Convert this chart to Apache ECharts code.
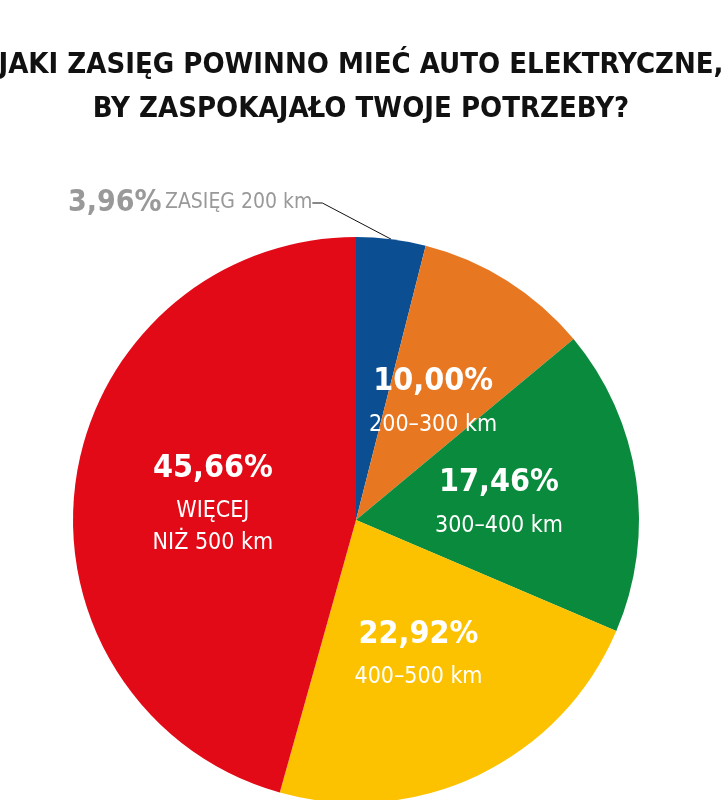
<!DOCTYPE html>
<html><head><meta charset="utf-8">
<script src="https://cdn.jsdelivr.net/npm/echarts@6/dist/echarts.min.js"></script>
<style>html,body{margin:0;padding:0;background:#fff}#c{width:722px;height:800px}</style>
</head><body><div id="c"></div>
<script>
const categories = ['ZASIĘG 200 km', '200–300 km', '300–400 km', '400–500 km', 'WIĘCEJ\nNIŻ 500 km'];
const values = [3.96, 10.00, 17.46, 22.92, 45.66];
const colors = ['#0b4f92', '#e87722', '#0a8a3c', '#fcc200', '#e20a17'];
const F = '"Liberation Sans Narrow", "DejaVu Sans Condensed", sans-serif';
const fmt = v => v.toFixed(2).replace('.', ',') + '%';
const chart = echarts.init(document.getElementById('c'));
chart.setOption({
  animation: false,
  title: {
    text: 'JAKI ZASIĘG POWINNO MIEĆ AUTO ELEKTRYCZNE,\nBY ZASPOKAJAŁO TWOJE POTRZEBY?',
    left: 'center', top: 38,
    textStyle: {fontFamily: F, fontWeight: 'bold', fontSize: 29, lineHeight: 44, color: '#111'}
  },
  series: [{
    type: 'pie', radius: 283, center: [356, 520], startAngle: 90, clockwise: true,
    silent: true,
    data: categories.map((n, i) => ({
      name: n, value: values[i], itemStyle: {color: colors[i]},
      label: i === 0 ? {
        position: 'outside', formatter: p => '{p|' + fmt(p.value) + '} {n|' + p.name + '}',
        rich: {p: {fontFamily: F, fontWeight: 'bold', fontSize: 30, color: '#999'},
               n: {fontFamily: F, fontSize: 21, color: '#999'}}
      } : {}
    })),
    label: {
      position: 'inside',
      formatter: p => '{p|' + fmt(p.value) + '}\n{n|' + p.name + '}',
      rich: {
        p: {fontFamily: F, fontWeight: 'bold', fontSize: 32, color: '#fff', lineHeight: 54},
        n: {fontFamily: F, fontSize: 23, color: '#fff', lineHeight: 32}
      }
    },
    labelLine: {show: true, length: 10, length2: 10, lineStyle: {color: '#111', width: 1}},
    labelLayout: p => p.dataIndex === 0 ? {x: 68, y: 203, align: 'left', verticalAlign: 'middle'} : {},
    itemStyle: {borderWidth: 0}
  }]
});
</script></body></html>
